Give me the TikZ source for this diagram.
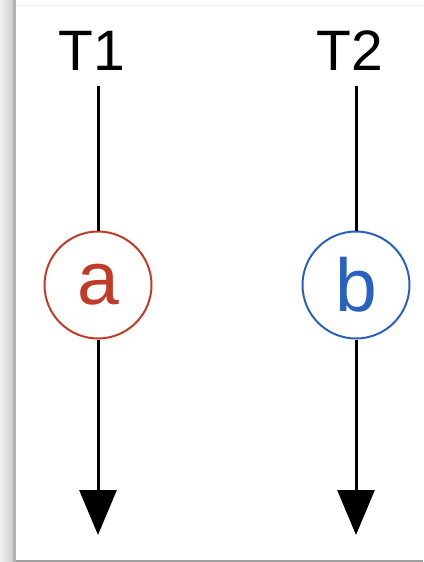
\documentclass[tikz,border=0pt]{standalone}
\usepackage{fontspec}
\setmainfont{Liberation Sans}
\definecolor{clRed}{HTML}{C23B26}
\definecolor{clBlue}{HTML}{2862BE}
\usetikzlibrary{arrows.meta,positioning}
\tikzset{
  label/.style={font=\fontsize{57}{60}\selectfont, anchor=base, inner sep=0pt},
  op/.style={circle, draw, line width=2pt, minimum size=107pt, inner sep=0pt,
             font=\fontsize{75}{80}\selectfont, fill=white},
  opA/.style={op, draw=clRed, text=clRed},
  opB/.style={op, draw=clBlue, text=clBlue},
  thread/.style={line width=3pt, draw=black},
  timeline/.style={thread, -{Triangle[length=45pt, width=37pt]}},
}

\begin{document}
\begin{tikzpicture}[x=1pt, y=-1pt]
  \useasboundingbox (0,0) rectangle (423,562);
  % window edge
  \shade[left color=gray!10, right color=gray!40] (0,0) rectangle (13,562);
  \fill[gray!60] (13,0) rectangle (16,562);
  \draw[gray!12, line width=1pt] (16,5) -- (423,5);
  \draw[gray!75, line width=2pt] (16,561) -- (423,561);

  \node[label] (t1) at (92,70) {T1};
  \node[label] (t2) at (350,70) {T2};
  \coordinate (s1) at (98,86);
  \coordinate (s2) at (356,86);
  \coordinate (e1) at (98,535);
  \coordinate (e2) at (356,535);
  \node[opA] (a) at (98,285) {a};
  \node[opB] (b) at (356,285) {b};

  \draw[thread] (s1) -- (a);
  \draw[thread] (s2) -- (b);
  \draw[timeline] (a) -- (e1);
  \draw[timeline] (b) -- (e2);
\end{tikzpicture}
\end{document}
